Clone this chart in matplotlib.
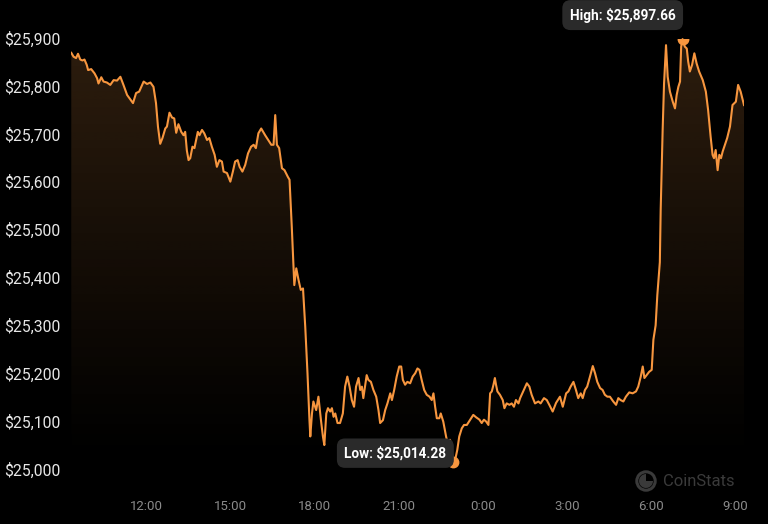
import numpy as np
import matplotlib
matplotlib.use("Agg")
import matplotlib.pyplot as plt
from matplotlib.patches import Polygon, Rectangle, Circle, Wedge

plt.rcParams['font.family'] = ['Roboto', 'DejaVu Sans']

# time in hours since midnight of first day (values > 24 are next day)
times = [9.32, 9.40, 9.49, 9.56, 9.64, 9.72, 9.79, 9.87, 9.92, 10.03, 10.15, 10.24, 10.29, 10.39, 10.47,
         10.59, 10.71, 10.83, 10.95, 11.07, 11.18, 11.31, 11.42, 11.52, 11.63, 11.74, 11.90, 12.02, 12.14,
         12.25, 12.34, 12.41, 12.49, 12.57, 12.67, 12.73, 12.82, 12.91, 12.99, 13.06, 13.14, 13.24, 13.32,
         13.38, 13.44, 13.50, 13.56, 13.64, 13.71, 13.83, 13.89, 13.98, 14.06, 14.16, 14.24, 14.33, 14.43,
         14.51, 14.60, 14.69, 14.75, 14.87, 14.99, 15.08, 15.16, 15.25, 15.32, 15.42, 15.52, 15.62, 15.73,
         15.82, 15.90, 15.99, 16.09, 16.23, 16.37, 16.45, 16.53, 16.59, 16.65, 16.73, 16.83, 16.92, 17.04,
         17.10, 17.18, 17.24, 17.27, 17.34, 17.42, 17.50, 17.58, 17.66, 17.74, 17.81, 17.84, 17.90, 17.95,
         18.05, 18.13, 18.22, 18.29, 18.34, 18.41, 18.47, 18.55, 18.61, 18.67, 18.73, 18.81, 18.90, 19.00,
         19.08, 19.16, 19.24, 19.32, 19.40, 19.47, 19.56, 19.62, 19.68, 19.73, 19.79, 19.85, 19.91, 20.00,
         20.09, 20.19, 20.27, 20.33, 20.43, 20.51, 20.59, 20.69, 20.75, 20.83, 20.92, 21.01, 21.08, 21.14,
         21.22, 21.30, 21.40, 21.49, 21.58, 21.66, 21.73, 21.81, 21.90, 21.99, 22.09, 22.17, 22.23, 22.29,
         22.35, 22.44, 22.49, 22.58, 22.68, 22.76, 22.82, 22.88, 22.94, 23.00, 23.08, 23.15, 23.24, 23.32,
         23.42, 23.54, 23.65, 23.75, 23.87, 23.95, 24.03, 24.11, 24.19, 24.25, 24.31, 24.37, 24.42, 24.46,
         24.51, 24.60, 24.70, 24.76, 24.84, 24.94, 25.02, 25.10, 25.17, 25.26, 25.32, 25.43, 25.56, 25.65,
         25.73, 25.85, 25.97, 26.05, 26.17, 26.27, 26.36, 26.48, 26.60, 26.74, 26.84, 26.96, 27.04, 27.12,
         27.22, 27.31, 27.39, 27.48, 27.55, 27.63, 27.71, 27.81, 27.91, 27.99, 28.07, 28.17, 28.26, 28.34,
         28.43, 28.52, 28.64, 28.74, 28.82, 28.90, 29.00, 29.09, 29.21, 29.33, 29.45, 29.53, 29.62, 29.69,
         29.75, 29.83, 29.92, 30.01, 30.07, 30.15, 30.21, 30.30, 30.33, 30.40, 30.45, 30.52, 30.58, 30.66,
         30.76, 30.84, 30.90, 30.96, 31.02, 31.06, 31.11, 31.19, 31.26, 31.31, 31.37, 31.45, 31.53, 31.61,
         31.70, 31.83, 31.94, 32.02, 32.11, 32.18, 32.23, 32.29, 32.36, 32.42, 32.48, 32.54, 32.62, 32.70,
         32.80, 32.89, 33.01, 33.09, 33.18, 33.30]
prices = [25869, 25861, 25858, 25867, 25855, 25853, 25855, 25844, 25833, 25835, 25826, 25816, 25805, 25818, 25809,
          25807, 25802, 25812, 25811, 25819, 25802, 25781, 25772, 25764, 25785, 25788, 25809, 25804, 25807,
          25798, 25764, 25715, 25679, 25691, 25711, 25715, 25744, 25734, 25732, 25702, 25720, 25704, 25697,
          25704, 25665, 25645, 25649, 25673, 25670, 25704, 25697, 25708, 25701, 25687, 25691, 25673, 25656,
          25631, 25645, 25642, 25621, 25618, 25600, 25621, 25642, 25645, 25631, 25621, 25635, 25659, 25673,
          25677, 25670, 25701, 25711, 25697, 25684, 25677, 25677, 25739, 25677, 25670, 25628, 25624, 25610,
          25604, 25506, 25423, 25384, 25419, 25395, 25374, 25377, 25297, 25200, 25102, 25068, 25116, 25141,
          25123, 25151, 25102, 25068, 25050, 25116, 25127, 25120, 25127, 25109, 25116, 25096, 25096, 25116,
          25172, 25193, 25172, 25144, 25130, 25172, 25190, 25165, 25172, 25148, 25172, 25196, 25186, 25182,
          25165, 25151, 25123, 25096, 25102, 25123, 25137, 25158, 25144, 25165, 25193, 25214, 25214, 25186,
          25176, 25182, 25179, 25193, 25200, 25210, 25207, 25186, 25165, 25155, 25151, 25144, 25158, 25130,
          25106, 25106, 25116, 25099, 25068, 25047, 25061, 25036, 25014.28, 25018, 25040, 25068, 25085, 25092,
          25092, 25103, 25113, 25108, 25103, 25096, 25103, 25099, 25092, 25158, 25162, 25176, 25190, 25176,
          25162, 25155, 25144, 25127, 25137, 25134, 25137, 25130, 25144, 25137, 25148, 25162, 25179, 25172,
          25155, 25137, 25141, 25137, 25148, 25144, 25134, 25120, 25138, 25151, 25130, 25158, 25162, 25172,
          25182, 25165, 25148, 25158, 25148, 25165, 25172, 25193, 25215, 25200, 25182, 25169, 25165, 25155,
          25151, 25151, 25141, 25134, 25148, 25144, 25141, 25151, 25160, 25158, 25162, 25172, 25193, 25214,
          25190, 25196, 25203, 25207, 25270, 25300, 25363, 25432, 25541, 25708, 25805, 25885, 25819, 25788,
          25767, 25753, 25781, 25798, 25809, 25882, 25897.66, 25882, 25878, 25851, 25830, 25844, 25868, 25847,
          25830, 25812, 25788, 25750, 25694, 25656, 25649, 25666, 25624, 25656, 25649, 25663, 25677, 25691,
          25715, 25760, 25767, 25802, 25788, 25760]

y_ticks = [25000, 25100, 25200, 25300, 25400, 25500, 25600, 25700, 25800, 25900]
y_tick_labels = ["$25,000", "$25,100", "$25,200", "$25,300", "$25,400",
                 "$25,500", "$25,600", "$25,700", "$25,800", "$25,900"]
x_ticks = [12, 15, 18, 21, 24, 27, 30, 33]
x_tick_labels = ["12:00", "15:00", "18:00", "21:00", "0:00", "3:00", "6:00", "9:00"]
high_label = "High: $25,897.66"
low_label = "Low: $25,014.28"

LINE = '#f7963f'
W, H = 768, 524
fig = plt.figure(figsize=(W / 100, H / 100), dpi=100, facecolor='black')
ax = fig.add_axes([71 / W, (H - 473.8) / H, (744 - 71) / W, 445.4 / H])
ax.set_facecolor('black')

x0, x1 = 9.31, 33.30
y0, y1 = 24990, 25920
ax.set_xlim(x0, x1)
ax.set_ylim(y0, y1)

t = np.array(times)
p = np.array(prices)

# gradient fill under the line
verts = np.column_stack([np.concatenate([t, [t[-1], t[0]]]),
                         np.concatenate([p, [y0, y0]])])
poly = Polygon(verts, closed=True, facecolor='none', edgecolor='none')
ax.add_patch(poly)
n = 256
alpha = np.clip(np.linspace((y0 - 25000) / 900, (y1 - 25000) / 900, n), 0, 1) ** 1.1 * 0.19
rgba = np.zeros((n, 1, 4))
rgba[..., 0] = 0xf3 / 255
rgba[..., 1] = 0x9c / 255
rgba[..., 2] = 0x4a / 255
rgba[:, 0, 3] = alpha
img = ax.imshow(rgba, extent=[x0, x1, y0, y1], origin='lower', aspect='auto',
                interpolation='bilinear', zorder=1)
img.set_clip_path(poly)

ax.plot(t, p, color=LINE, lw=1.5, zorder=3, solid_joinstyle='round')

# markers for high and low
ih = int(np.argmax(p))
il = int(np.argmin(p))
clip_rect = Rectangle((x0, y0), x1 - x0, p[ih] - y0, transform=ax.transData,
                      facecolor='none', edgecolor='none')
ax.add_patch(clip_rect)
for i in (ih, il):
    m, = ax.plot([t[i]], [p[i]], 'o', color=LINE, ms=7.5, zorder=4)
    m.set_clip_path(clip_rect)

box = dict(boxstyle='round,pad=0.55,rounding_size=0.6', fc='#2a2a2a', ec='none')
ax.annotate(high_label, xy=(t[ih], p[ih]), xytext=(-7, 24), textcoords='offset pixels',
            ha='right', va='center', color='white', fontsize=9.8, fontweight='bold',
            bbox=box, zorder=6, annotation_clip=False)
ax.annotate(low_label, xy=(t[il], p[il]), xytext=(-7, 9), textcoords='offset pixels',
            ha='right', va='center', color='white', fontsize=9.8, fontweight='bold',
            bbox=box, zorder=6, annotation_clip=False)

for s in ax.spines.values():
    s.set_visible(False)
ax.set_yticks(y_ticks)
ax.set_yticklabels(y_tick_labels)
ax.set_xticks(x_ticks)
ax.set_xticklabels(x_tick_labels)
ax.tick_params(axis='y', length=0, pad=67 * 0.72, labelsize=11.3, labelcolor='#e6e6e6')
ax.tick_params(axis='x', length=0, pad=26 * 0.72, labelsize=9.5, labelcolor='#8a8a8a')
for lbl in ax.get_yticklabels():
    lbl.set_horizontalalignment('left')

# watermark
cx, cy = 646 / 100, (H - 481) / 100
fig.add_artist(Circle((cx, cy), 0.092, transform=fig.dpi_scale_trans, fill=False,
                      ec='#3a3a3a', lw=2.2))
fig.add_artist(Wedge((cx, cy), 0.07, 90, 360, transform=fig.dpi_scale_trans,
                     fc='#3a3a3a', ec='none'))
fig.text(663 / W, 1 - 481 / H, 'CoinStats', ha='left', va='center', color='#3a3a3a',
         fontsize=12)

fig.savefig('out.png', dpi=100, facecolor='black')
